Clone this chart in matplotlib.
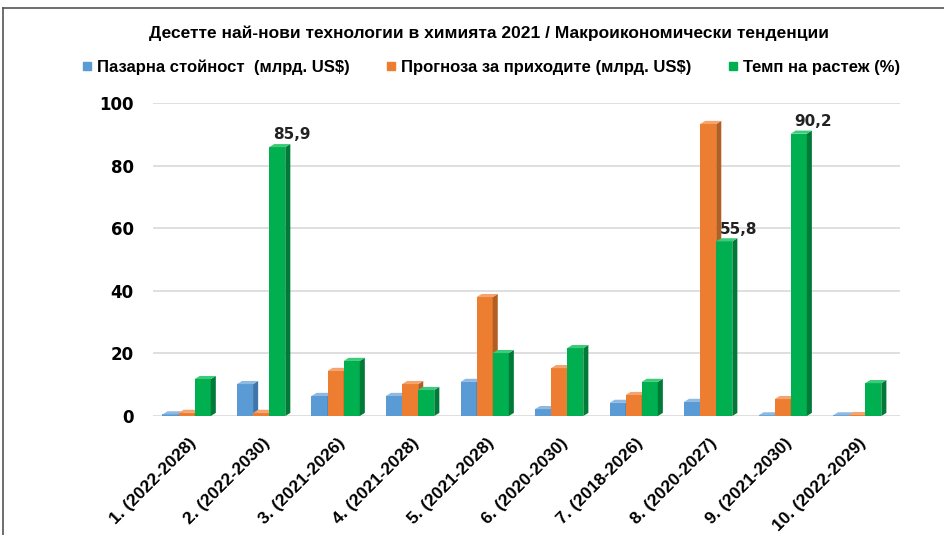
import numpy as np
import matplotlib
matplotlib.use("Agg")
from matplotlib import pyplot as plt
from matplotlib.patches import Polygon
from matplotlib.lines import Line2D

categories = ["1. (2022-2028)", "2. (2022-2030)", "3. (2021-2026)", "4. (2021-2028)",
              "5. (2021-2028)", "6. (2020-2030)", "7. (2018-2026)", "8. (2020-2027)",
              "9. (2021-2030)", "10. (2022-2029)"]
market_value = [0.5, 10.2, 6.4, 6.4, 10.9, 2.2, 4.2, 4.5, 0.2, 0.2]
revenue_forecast = [1.0, 1.0, 14.4, 10.2, 38.0, 15.3, 6.7, 93.3, 5.4, 0.3]
growth_rate = [11.8, 85.9, 17.6, 8.3, 20.1, 21.7, 10.9, 55.8, 90.2, 10.5]
series_names = ["Пазарна стойност  (млрд. US$)", "Прогноза за приходите (млрд. US$)",
                "Темп на растеж (%)"]
labelled = {1: "85,9", 7: "55,8", 8: "90,2"}

front = ["#5B9BD5", "#ED7D31", "#00B050"]
side = ["#3F75A8", "#B35E22", "#007A37"]
top = ["#8DB9E3", "#F4A46F", "#3CCB78"]

narrow = ["Liberation Sans", "DejaVu Sans"]

fig = plt.figure(figsize=(9.45, 5.35), dpi=100)
ax = fig.add_axes([0.162, 0.2224, 0.79, 0.585])

x = np.arange(len(categories))
w = 0.216
dx, dy = 0.068, 1.0
series = [market_value, revenue_forecast, growth_rate]

z = 3
for i in range(len(categories)):
    for k, vals in enumerate(series):
        xc = x[i] + (k - 1) * w
        h = vals[i]
        ax.bar(xc, h, w, color=front[k], zorder=z, linewidth=0)
        l, r = xc - w / 2, xc + w / 2
        ax.add_patch(Polygon([(r, 0), (r + dx, dy), (r + dx, h + dy), (r, h)],
                             closed=True, facecolor=side[k], edgecolor="none", zorder=z))
        ax.add_patch(Polygon([(l, h), (l + dx, h + dy), (r + dx, h + dy), (r, h)],
                             closed=True, facecolor=top[k], edgecolor="none", zorder=z))
        z += 1

for i, txt in labelled.items():
    xc = x[i] + w
    ax.text(xc - w / 2 + 0.05, growth_rate[i] + 1.5, txt, ha="left", va="bottom",
            fontsize=11, fontweight="bold", color="#222222", zorder=100)

ax.set_xlim(-0.45, 9.57)
ax.set_ylim(0, 100)
ax.set_yticks([0, 20, 40, 60, 80, 100])
ax.yaxis.grid(True, color="#D9D9D9", linewidth=1.2)
ax.set_axisbelow(True)
for s in ax.spines.values():
    s.set_visible(False)
ax.tick_params(axis="both", length=0)
ax.tick_params(axis="y", pad=14, labelsize=12)
for t in ax.get_yticklabels():
    t.set_fontweight("bold")
ax.set_xticks(x + 0.02)
ax.set_xticklabels(categories, rotation=45, ha="right", rotation_mode="anchor",
                   fontsize=12.5, fontweight="bold", family=narrow)
ax.tick_params(axis="x", pad=14)

fig.text(0.517, 0.938, "Десетте най-нови технологии в химията 2021 / Макроикономически тенденции",
         ha="center", va="center", fontsize=12.5, fontweight="bold", family=narrow)

handles = [Line2D([], [], marker="s", linestyle="none", markersize=6,
                  markerfacecolor=c, markeredgecolor=c) for c in front]
fig.legend(handles, series_names, loc="center", bbox_to_anchor=(0.518, 0.875), ncol=3,
           frameon=False, prop={"family": narrow, "weight": "bold", "size": 12},
           handletextpad=0.1, columnspacing=2.0, handlelength=1.0)

# outer frame
fig.add_artist(Line2D([0.003, 1.0], [1 - 8 / 535, 1 - 8 / 535], transform=fig.transFigure,
                      color="#555555", linewidth=1.2))
fig.add_artist(Line2D([0.003, 0.003], [0, 1 - 8 / 535], transform=fig.transFigure,
                      color="#555555", linewidth=1.2))

fig.savefig("out.png", dpi=100, facecolor="white")
